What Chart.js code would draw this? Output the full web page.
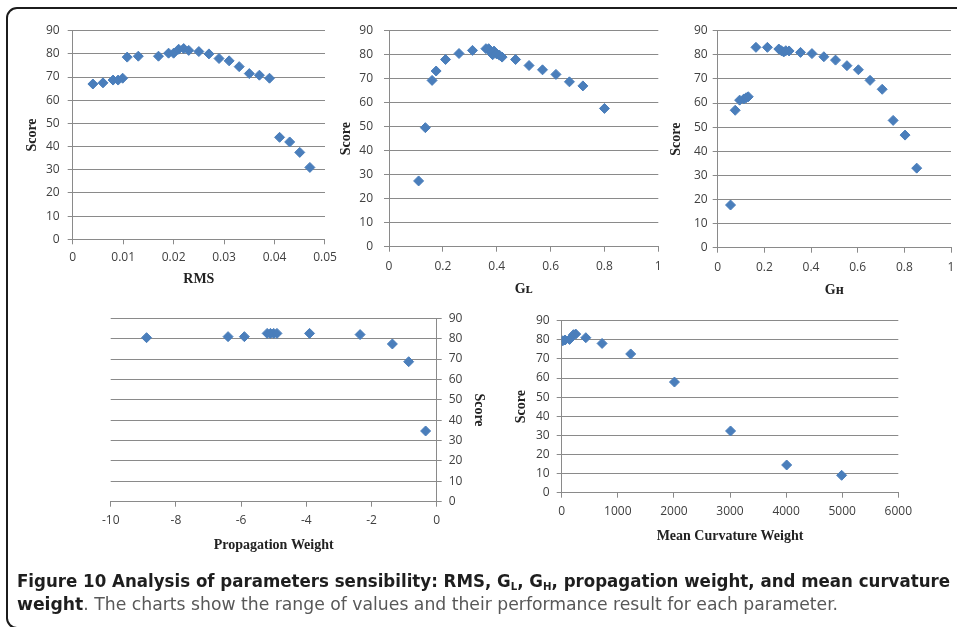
<!DOCTYPE html>
<html>
<head>
<meta charset="utf-8">
<script src="https://cdn.jsdelivr.net/npm/chart.js@4/dist/chart.umd.min.js"></script>
<style>
html, body { margin: 0; padding: 0; background: #fff; overflow: hidden; }
body { width: 957px; height: 627px; position: relative; }
canvas { position: absolute; left: 0; top: 0; }
#frame { position: absolute; left: 6px; top: 7px; width: 1000px; height: 618px;
         border: 2px solid #1c1c1c; border-radius: 11px; }
.cap { position: absolute; left: 17px; font-family: "Liberation Sans Narrow", "DejaVu Sans Condensed", "Open Sans", sans-serif;
       font-size: 18px; line-height: 22px; white-space: nowrap; transform-origin: 0 0; color: #585858; }
.cap b { color: #1e1e1e; }
.cap sub { font-size: 11px; vertical-align: -3px; line-height: 0; }
</style>
</head>
<body>
<div id="frame"></div>
<canvas id="rms" width="957" height="627"></canvas>
<canvas id="gl" width="957" height="627"></canvas>
<canvas id="gh" width="957" height="627"></canvas>
<canvas id="prop" width="957" height="627"></canvas>
<canvas id="curv" width="957" height="627"></canvas>
<div class="cap" id="cap1" style="top:570px"><b>Figure 10 Analysis of parameters sensibility: RMS, G<sub>L</sub>, G<sub>H</sub>, propagation weight, and mean curvature</b></div>
<div class="cap" id="cap2" style="top:593px"><b>weight</b>. The charts show the range of values and their performance result for each parameter.</div>
<script>
// values
const rmsX = [0.004, 0.006, 0.008, 0.009, 0.0099, 0.0108, 0.013, 0.017, 0.019, 0.02, 0.021, 0.022, 0.023, 0.025,
              0.027, 0.029, 0.031, 0.033, 0.035, 0.037, 0.039, 0.041, 0.043, 0.045, 0.047];
const rmsY = [67, 67.5, 68.7, 68.7, 69.5, 78.6, 79, 79, 80.3, 80.3, 82, 82.3, 81.5, 81,
              80, 78, 77, 74.5, 71.5, 70.8, 69.5, 44, 42, 37.5, 31];

const glX = [0.11, 0.135, 0.16, 0.175, 0.21, 0.26, 0.31, 0.36, 0.37, 0.38, 0.385, 0.39, 0.4, 0.41, 0.42,
             0.47, 0.52, 0.57, 0.62, 0.67, 0.72, 0.8];
const glY = [27.4, 49.6, 69.3, 73.2, 78, 80.5, 81.8, 82.5, 82.5, 81, 80, 81.5, 80.3, 79.8, 79,
             78, 75.5, 73.7, 71.8, 68.7, 67, 57.6];

const ghX = [0.055, 0.075, 0.094, 0.112, 0.122, 0.131, 0.164, 0.213, 0.262, 0.273, 0.283, 0.292, 0.306,
             0.355, 0.404, 0.455, 0.505, 0.554, 0.603, 0.653, 0.705, 0.752, 0.803, 0.853];
const ghY = [17.7, 57, 61.2, 61.7, 62.2, 62.6, 83.1, 83.1, 82.4, 81.7, 81.2, 81.7, 81.6,
             81, 80.5, 79.2, 77.8, 75.5, 73.8, 69.4, 65.7, 52.8, 46.7, 33];

const propX = [-8.9, -6.4, -5.9, -5.2, -5.1, -5.0, -4.9, -3.9, -2.35, -1.36, -0.86, -0.34];
const propY = [80.5, 81, 81, 82.6, 82.6, 82.6, 82.6, 82.6, 82, 77.4, 68.7, 34.7];

const curvX = [20, 60, 140, 210, 250, 430, 720, 1230, 2010, 3010, 4010, 4990];
const curvY = [79.5, 79.9, 80.2, 82.7, 83, 81.1, 78.1, 72.6, 57.9, 32.3, 14.5, 9.1];

const scoreTicks = { min: 0, max: 90, step: 10 };

const gridColor = '#8a8a8a';
const markColor = '#4a7ebb';
const tickFont = { family: 'Open Sans', size: 12 };
const titleFont = { family: 'Liberation Serif', size: 14, weight: 'bold', lineHeight: 1.2 };

// box = plot area in page pixels plus where the axis titles sit
function scatterChart(id, xs, ys, box) {
    const points = xs.map((x, i) => ({ x: x, y: ys[i] }));
    const half = 14 * 1.2 / 2;
    const xH = box.xTitleY - box.b + half;
    const yW = box.yRight ? box.yTitleX - box.r + half : box.l - box.yTitleX + half;

    const padding = {
        left: box.yRight ? box.l : box.l - yW,
        right: box.yRight ? 957 - box.r - yW : 957 - box.r,
        top: box.t,
        bottom: 627 - box.b - xH
    };

    const ctx = document.getElementById(id).getContext('2d');
    return new Chart(ctx, {
        type: 'scatter',
        data: {
            datasets: [{
                data: points,
                pointStyle: 'rectRot',
                pointRadius: 5,
                pointHoverRadius: 5,
                backgroundColor: markColor,
                borderColor: markColor,
                borderWidth: 1
            }]
        },
        options: {
            responsive: false,
            animation: false,
            locale: 'en-US',
            layout: { padding: padding },
            plugins: { legend: { display: false }, tooltip: { enabled: false } },
            scales: {
                x: {
                    type: 'linear',
                    position: 'bottom',
                    min: box.xMin,
                    max: box.xMax,
                    afterFit: (s) => { s.height = xH; s.paddingLeft = 0; s.paddingRight = 0; },
                    grid: { drawOnChartArea: false, drawTicks: true, tickLength: 5, color: gridColor },
                    border: { display: true, color: gridColor },
                    ticks: {
                        stepSize: box.xStep,
                        padding: box.xPad,
                        color: '#404040',
                        font: tickFont,
                        maxRotation: 0,
                        autoSkip: false,
                        callback: box.plain ? (v) => String(v) : undefined
                    },
                    title: { display: true, text: box.xTitle, color: '#222', font: titleFont, padding: 0 }
                },
                y: {
                    type: 'linear',
                    position: box.yRight ? 'right' : 'left',
                    min: scoreTicks.min,
                    max: scoreTicks.max,
                    afterFit: (s) => { s.width = yW; s.paddingTop = 0; s.paddingBottom = 0; },
                    grid: { drawOnChartArea: true, drawTicks: true, tickLength: 5, color: gridColor },
                    border: { display: true, color: gridColor },
                    ticks: { stepSize: scoreTicks.step, padding: box.yPad, color: '#404040', font: tickFont },
                    title: { display: true, text: 'Score', color: '#222', font: titleFont, padding: 0 }
                }
            }
        }
    });
}

scatterChart('rms', rmsX, rmsY, {
    l: 72.7, r: 325, t: 30.7, b: 239.3, yTitleX: 32, xTitleY: 279,
    xMin: 0, xMax: 0.05, xStep: 0.01, xTitle: 'RMS', yPad: 8, xPad: 6.5
});
scatterChart('gl', glX, glY, {
    l: 389, r: 658.3, t: 30.7, b: 246.7, yTitleX: 346.7, xTitleY: 289,
    xMin: 0, xMax: 1, xStep: 0.2, xTitle: 'Gʟ', yPad: 11, xPad: 8
});
scatterChart('gh', ghX, ghY, {
    l: 717.7, r: 955.7, t: 30.7, b: 247.7, yTitleX: 676.7, xTitleY: 290,
    xMin: 0, xMax: 1, xStep: 0.2, xTitle: 'Gʜ', yPad: 5, xPad: 8
});
scatterChart('prop', propX, propY, {
    l: 110.7, r: 436.7, t: 318.3, b: 501.7, yTitleX: 479, xTitleY: 545, yRight: true,
    xMin: -10, xMax: 0, xStep: 2, xTitle: 'Propagation Weight', yPad: 7, xPad: 7
});
scatterChart('curv', curvX, curvY, {
    l: 561.7, r: 898.3, t: 320.7, b: 492.7, yTitleX: 521.7, xTitleY: 536,
    xMin: 0, xMax: 6000, xStep: 1000, xTitle: 'Mean Curvature Weight', yPad: 7, xPad: 7, plain: true
});

// squeeze the caption lines to the width they take in the figure
function fitLine(id, width) {
    const el = document.getElementById(id);
    const w = el.getBoundingClientRect().width;
    el.style.transform = 'scaleX(' + (width / w) + ')';
}
fitLine('cap1', 933);
fitLine('cap2', 821);
</script>
</body>
</html>
